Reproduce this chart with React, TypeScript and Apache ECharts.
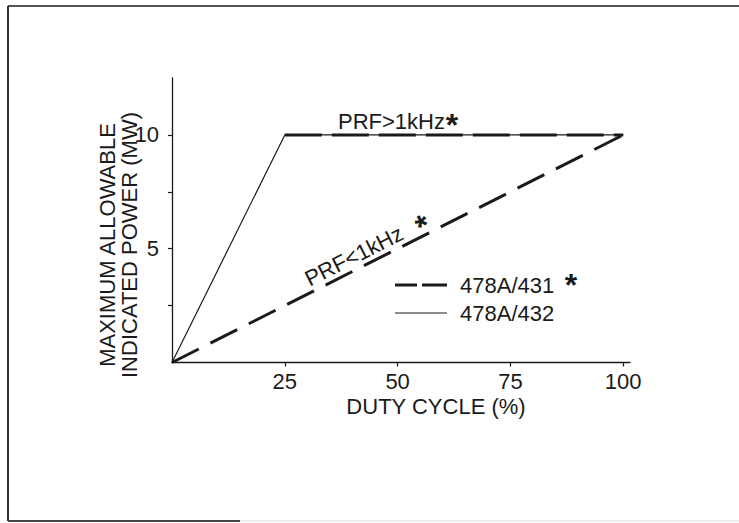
import React, { useEffect, useRef } from "react";
import * as echarts from "echarts";

// 478A/432 (thin solid)
const dutyCycle432 = [0, 25, 100];
const power432 = [0, 10, 10];
// 478A/431 PRF > 1 kHz (thick dashed)
const dutyCycleHighPrf = [25, 100];
const powerHighPrf = [10, 10];
// 478A/431 PRF < 1 kHz (thick dashed)
const dutyCycleLowPrf = [0, 100];
const powerLowPrf = [0, 10];

const xTickValues = [25, 50, 75, 100];
const yTickValues = [2.5, 5, 7.5, 10];
const yLabelValues = [5, 10];
const legendNames = ["478A/431", "478A/432"];
const yTitleLines = ["MAXIMUM ALLOWABLE", "INDICATED POWER (MW)"];
const xTitle = "DUTY CYCLE (%)";
const highPrfLabel = "PRF>1kHz";
const lowPrfLabel = "PRF<1kHz";

const FONT = "'Liberation Sans', Arial, sans-serif";
const INK = "#1a1a1a";

const pairs = (xs: number[], ys: number[]) => xs.map((x, i) => [x, ys[i]]);

export default function App() {
  const ref = useRef<HTMLDivElement>(null);

  useEffect(() => {
    document.body.style.margin = "0";
    if (!ref.current) return;
    const chart = echarts.init(ref.current, undefined, { renderer: "svg" });
    const ang = (26.8 * Math.PI) / 180;
    const txt = (text: string, x: number, y: number, extra: any = {}, style: any = {}) => ({
      type: "text",
      x,
      y,
      ...extra,
      style: {
        text,
        fontSize: 22,
        fontFamily: FONT,
        fill: INK,
        align: "center",
        verticalAlign: "middle",
        ...style,
      },
    });
    const star = (x: number, y: number, extra: any = {}) =>
      txt("*", x, y, extra, { fontSize: 32, fontWeight: "bold" });
    const ln = (x1: number, y1: number, x2: number, y2: number, stroke: string, lineWidth: number) => ({
      type: "line",
      shape: { x1, y1, x2, y2 },
      style: { stroke, lineWidth },
    });

    chart.setOption({
      animation: false,
      backgroundColor: "#ffffff",
      grid: { left: 172, top: 78, right: 109, bottom: 160.5, containLabel: false },
      xAxis: {
        type: "value",
        min: 0,
        max: 101.5,
        interval: 25,
        axisLine: { show: true, lineStyle: { color: INK, width: 1.3 } },
        axisTick: {
          show: true,
          customValues: xTickValues,
          length: 4,
          lineStyle: { color: INK, width: 1.2 },
        },
        axisLabel: {
          customValues: xTickValues,
          margin: 8,
          fontSize: 22,
          color: INK,
          fontFamily: FONT,
          formatter: (v: number) => (xTickValues.includes(v) ? String(v) : ""),
        },
        splitLine: { show: false },
      },
      yAxis: {
        type: "value",
        min: 0,
        max: 12.5,
        interval: 2.5,
        axisLine: { show: true, lineStyle: { color: INK, width: 1.3 } },
        axisTick: {
          show: true,
          customValues: yTickValues,
          length: 4,
          lineStyle: { color: INK, width: 1.2 },
        },
        axisLabel: {
          customValues: yLabelValues,
          margin: 13,
          fontSize: 22,
          color: INK,
          fontFamily: FONT,
          formatter: (v: number) => (yLabelValues.includes(v) ? String(v) : ""),
        },
        splitLine: { show: false },
      },
      series: [
        {
          type: "line",
          name: legendNames[1],
          data: pairs(dutyCycle432, power432),
          symbol: "none",
          lineStyle: { color: INK, width: 1.2 },
          z: 2,
        },
        {
          type: "line",
          name: legendNames[0] + " " + highPrfLabel,
          data: pairs(dutyCycleHighPrf, powerHighPrf),
          symbol: "none",
          lineStyle: { color: INK, width: 3, type: [37, 10] },
          z: 3,
        },
        {
          type: "line",
          name: legendNames[0] + " " + lowPrfLabel,
          data: pairs(dutyCycleLowPrf, powerLowPrf),
          symbol: "none",
          lineStyle: { color: INK, width: 3, type: [30, 13] },
          z: 3,
        },
      ],
      graphic: [
        // frame
        ln(8, 6, 739, 6, "#555", 2),
        ln(8, 6, 8, 521, "#333", 2),
        ln(8, 521, 240, 521, "#444", 2),
        ln(240, 521, 739, 521, "#ddd", 1),
        // axis titles
        txt(yTitleLines[0], 107, 245, { rotation: Math.PI / 2 }),
        txt(yTitleLines[1], 129, 245, { rotation: Math.PI / 2 }),
        txt(xTitle, 436, 406),
        // annotations
        txt(highPrfLabel, 338, 121.5, {}, { align: "left" }),
        star(452, 125),
        txt(lowPrfLabel, 354, 256, { rotation: ang }),
        star(423, 226, { rotation: ang }),
        // legend
        ln(395, 285, 417, 285, INK, 3),
        ln(422, 285, 447, 285, INK, 3),
        txt(legendNames[0], 460, 285, {}, { align: "left" }),
        star(571, 285),
        ln(395, 313, 447, 313, INK, 1.2),
        txt(legendNames[1], 460, 313, {}, { align: "left" }),
      ],
    });
    return () => chart.dispose();
  }, []);

  return <div ref={ref} style={{ width: 739, height: 523 }} />;
}
